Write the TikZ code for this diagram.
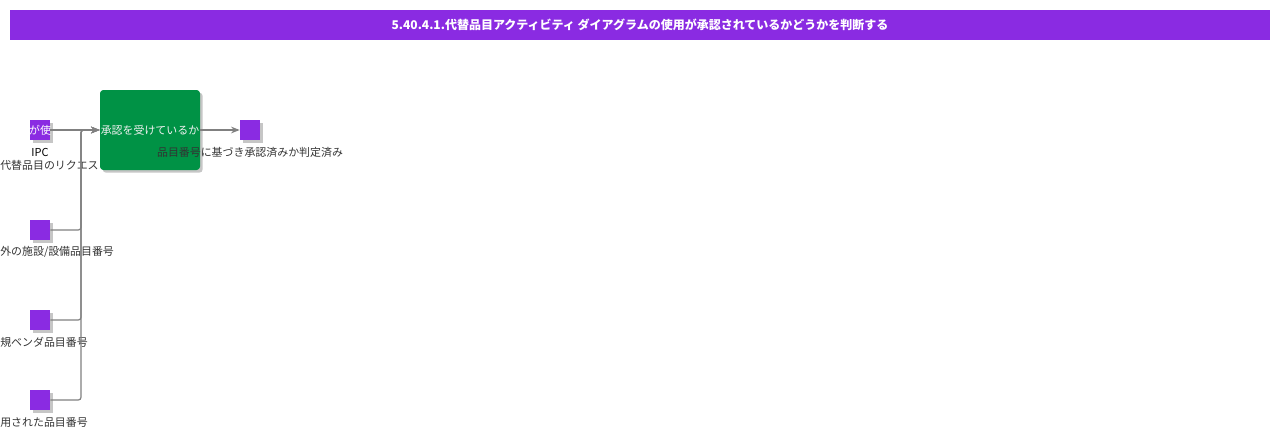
\documentclass[tikz,border=0pt]{standalone}
\usepackage{fontspec}
\setmainfont{Noto Sans CJK JP}
\usepackage{xcolor}
\usetikzlibrary{arrows.meta,positioning,shadows}

\definecolor{actviolet}{RGB}{138,43,226}
\definecolor{actgreen}{RGB}{0,146,69}
\definecolor{wiregray}{RGB}{128,128,128}
\definecolor{labelgray}{RGB}{51,51,51}

\begin{document}
\begin{tikzpicture}[x=0.75pt,y=-0.75pt,inner sep=0pt,>={Stealth[length=6.5pt,width=5pt]},
  shade/.style={drop shadow={opacity=0.45,shadow xshift=2pt,shadow yshift=-2pt}},
  pin/.style={fill=actviolet,minimum size=15pt,shade},
  act/.style={fill=actgreen,minimum width=75pt,minimum height=60pt,rounded corners=2.5pt,shade},
  lbl/.style={text=labelgray,font=\fontsize{8.2pt}{9pt}\selectfont},
  wire/.style={draw=wiregray,line width=0.9pt,rounded corners=2pt}]
\useasboundingbox (0,0) rectangle (1280,439);

\node[fill=actviolet,minimum width=945pt,minimum height=22.5pt,text=white,
  font=\fontsize{9pt}{10pt}\selectfont\bfseries] (T) at (640,25)
  {5.40.4.1.代替品目アクティビティ ダイアグラムの使用が承認されているかどうかを判断する};

\node[pin,label={[text=white,font=\fontsize{8.2pt}{9pt}\selectfont]center:が使}] (s1) at (40,130) {};
\node[pin] (s2) at (40,230) {};
\node[pin] (s3) at (40,320) {};
\node[pin] (s4) at (40,400) {};
\node[act,text=white!90!gray,font=\fontsize{8.2pt}{9pt}\selectfont] (G) at (150,130) {承認を受けているか};
\node[pin] (out) at (250,130) {};

\node[lbl,text=black] (l1) at (40,152) {IPC};
\node[lbl,anchor=west] (l1b) at (0,165) {代替品目のリクエス};
\node[lbl,anchor=west] (l2) at (0,252) {外の施設/設備品目番号};
\node[lbl,anchor=west] (l3) at (0,342) {規ベンダ品目番号};
\node[lbl,anchor=west] (l4) at (0,422) {用された品目番号};
\node[lbl] (lo) at (250,152) {品目番号に基づき承認済みか判定済み};

\coordinate (bus) at (81,130);
\path (s1) edge[wire,->] (G);
\draw[wire,->] (s2) -- (s2 -| bus) -- (bus) -- (G);
\draw[wire,->] (s3) -- (s3 -| bus) -- (bus) -- (G);
\draw[wire,->] (s4) -- (s4 -| bus) -- (bus) -- (G);
\path (G) edge[wire,->] (out);

\end{tikzpicture}
\end{document}
